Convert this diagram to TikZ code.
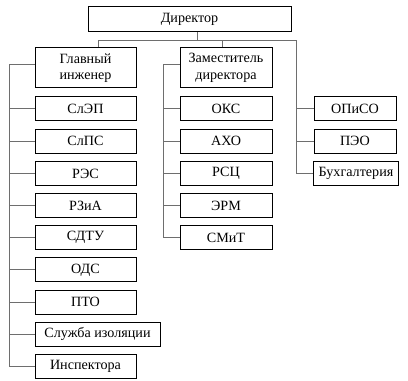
\documentclass[tikz,border=0pt]{standalone}
\usepackage{fontspec}
\setmainfont{Liberation Serif}
\usepackage{tikz}
\usetikzlibrary{positioning,calc}
\definecolor{linkG}{RGB}{110,110,110}

\begin{document}
\begin{tikzpicture}[x=0.75pt, y=-0.75pt, font=\fontsize{10.6}{12.4}\selectfont,
  unit/.style={rectangle, draw=black, line width=0.75pt, fill=white, align=center,
              minimum height=18pt, inner sep=2pt},
  head/.style={unit, minimum height=30pt},
  lcol/.style={unit, minimum width=75.75pt},
  mcol/.style={unit, minimum width=69pt},
  rcol/.style={unit, minimum width=61.5pt},
  link/.style={draw=linkG, line width=0.75pt}]
  \useasboundingbox (0,0) rectangle (408,381);
  \node[unit, minimum width=152.25pt, minimum height=18.75pt] (dir) at (189.5,19.5) {Директор};
  \node[head, minimum width=75.75pt] (gi) at (85.5,68) {Главный\\инженер};
  \node[head, minimum width=69pt] (zam) at (226,68) {Заместитель\\директора};

  % left column
  \node[lcol] (slep) at (85.5,109) {СлЭП};
  \node[lcol] (slps) at (85.5,141.2) {СлПС};
  \node[lcol] (res)  at (85.5,173.4) {РЭС};
  \node[lcol] (rza)  at (85.5,205.6) {РЗиА};
  \node[lcol] (sdtu) at (85.5,237.8) {СДТУ};
  \node[lcol] (ods)  at (85.5,270) {ОДС};
  \node[lcol] (pto)  at (85.5,302.2) {ПТО};
  \node[unit, minimum width=93.75pt] (sliz) at (97.5,334.4) {Служба изоляции};
  \node[lcol] (insp) at (85.5,366.6) {Инспектора};

  % middle column
  \node[mcol] (oks)  at (226,109) {ОКС};
  \node[mcol] (aho)  at (226,141.2) {АХО};
  \node[mcol] (rsc)  at (226,173.4) {РСЦ};
  \node[mcol] (erm)  at (226,205.6) {ЭРМ};
  \node[mcol] (smit) at (226,237.8) {СМиТ};

  % right column
  \node[rcol] (opiso) at (355,109) {ОПиСО};
  \node[rcol] (peo)   at (355,141.2) {ПЭО};
  \node[rcol, minimum width=63.75pt] (buh) at (356,173.4) {Бухгалтерия};

  % connectors
  \coordinate (jn) at (197.5,40.3);
  \coordinate (jl) at (98,40.3);
  \coordinate (jz) at (222,40.3);
  \coordinate (jr) at (296,40.3);
  \coordinate (bl) at (9,64.5);
  \coordinate (bm) at (163,64.5);
  \draw[link] (jn |- dir.south) -- (jn);
  \draw[link] (jl) -- (jr);
  \draw[link] (jl) -- (jl |- gi.north);
  \draw[link] (jz) -- (jz |- zam.north);
  \draw[link] (bl) -- (bl -| gi.west);
  \draw[link] (bm) -- (bm -| zam.west);
  \foreach \n in {slep,slps,res,rza,sdtu,ods,pto,sliz,insp}
    \draw[link] (bl) |- (\n.west);
  \foreach \n in {oks,aho,rsc,erm,smit}
    \draw[link] (bm) |- (\n.west);
  \foreach \n in {opiso,peo,buh}
    \draw[link] (jr) |- (\n.west);
\end{tikzpicture}
\end{document}
